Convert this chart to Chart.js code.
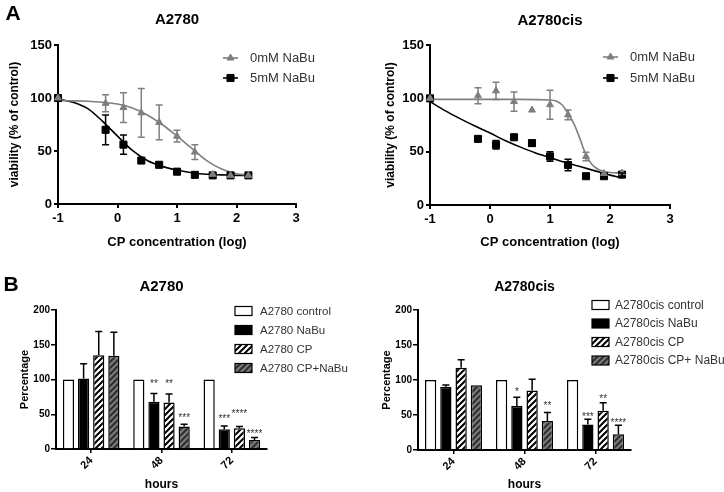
<!DOCTYPE html>
<html>
<head>
<meta charset="utf-8">
<script src="https://cdn.jsdelivr.net/npm/chart.js@4/dist/chart.umd.min.js"></script>
<style>
  body { margin: 0; background: #fff; }
  #wrap { position: relative; width: 724px; height: 492px; overflow: hidden; }
  canvas { position: absolute; }
</style>
</head>
<body>
<div id="wrap">
  <canvas id="doseA2780" width="362" height="250" style="left:0;top:0"></canvas>
  <canvas id="doseCis" width="362" height="250" style="left:362px;top:0"></canvas>
  <canvas id="barA2780" width="362" height="242" style="left:0;top:250px"></canvas>
  <canvas id="barCis" width="362" height="242" style="left:362px;top:250px"></canvas>
</div>
<script>
// ---- A: viability vs CP concentration (log) ----
const doseLog = [-1, -0.2, 0.1, 0.4, 0.7, 1.0, 1.3, 1.6, 1.9, 2.2];

const a2780Zero = [100, 95, 91, 86, 77, 64, 49, 28, 27, 27];
const a2780ZeroErr = [0, 8, 14, 23, 16.5, 5.5, 7, 0, 0, 0];
const a2780Five = [100, 70, 56, 41, 37, 30.5, 27.5, 27, 27, 27];
const a2780FiveErr = [0, 14, 9, 0, 2, 0, 0, 0, 0, 0];

const a2780FitX = [-1, -0.75, -0.5, -0.25, 0, 0.25, 0.5, 0.75, 1, 1.25, 1.5, 1.75, 2, 2.2];
const a2780FitZero = [97.5, 97.3, 97, 96, 94.3, 90.5, 84, 75, 64, 52.5, 41, 33, 28.5, 27.5];
const a2780FitFive = [99, 96, 90, 78, 64, 50.5, 41, 35.5, 32, 29.5, 28, 27.5, 27, 27];

const cisZero = [100, 102.5, 107, 97, 89, 94, 84.5, 45.5, 29.5, 30];
const cisZeroErr = [0, 7.5, 8, 9, 0, 13.5, 4.5, 4, 0, 0];
const cisFive = [100, 62, 56.5, 63.5, 58, 45.5, 37.5, 27, 27, 28.5];
const cisFiveErr = [0, 2, 4, 0, 3, 4.5, 5.5, 0, 0, 1.5];

const cisFitZeroX = [-1, -0.5, 0, 0.5, 1, 1.1, 1.2, 1.3, 1.4, 1.5, 1.6, 1.7, 1.8, 1.9, 2, 2.2];
const cisFitZero = [99, 99, 99, 99, 98.5, 97.5, 94, 86, 76, 62, 47, 38, 33.5, 31.5, 30.5, 30];
const cisFitFiveX = [-1, -0.75, -0.5, -0.25, 0, 0.25, 0.5, 0.75, 1, 1.25, 1.5, 1.75, 2, 2.2];
const cisFitFive = [97, 88.5, 81, 74, 67.5, 60.5, 54.5, 49, 44.5, 40, 36, 32, 28, 25.5];

// ---- B: percentage vs hours ----
const hours = ["24", "48", "72"];

const a2780Control = [100, 100, 100];
const a2780Nabu = [101.5, 68, 28.5];
const a2780NabuErr = [21, 12, 4.5];
const a2780Cp = [135, 67, 30];
const a2780CpErr = [34, 12, 2.5];
const a2780CpNabu = [134, 32.5, 13];
const a2780CpNabuErr = [34, 3, 3.5];
const a2780NabuStars = ["", "**", "***"];
const a2780NabuStarAt = [0, 97, 47];
const a2780CpStars = ["", "**", "****"];
const a2780CpStarAt = [0, 97, 54];
const a2780CpNabuStars = ["", "***", "****"];
const a2780CpNabuStarAt = [0, 48, 25];

const cisControl = [100, 100, 100];
const cisNabu = [90.5, 63, 36.5];
const cisNabuErr = [2.5, 12.5, 7.5];
const cisCp = [117.5, 85, 56];
const cisCpErr = [11.5, 16, 11.5];
const cisCpNabu = [92.5, 41.5, 22.5];
const cisCpNabuErr = [0, 12, 13];
const cisNabuStars = ["", "*", "***"];
const cisNabuStarAt = [0, 86, 51];
const cisCpStars = ["", "", "**"];
const cisCpStarAt = [0, 0, 76];
const cisCpNabuStars = ["", "**", "****"];
const cisCpNabuStarAt = [0, 66, 42];

const FONT = '"Liberation Sans", Arial, Helvetica, sans-serif';
const GRAY = "#7f7f7f";

Chart.defaults.font.family = FONT;
Chart.defaults.color = "#000";
Chart.defaults.animation = false;
Chart.defaults.plugins.legend.display = false;
Chart.defaults.plugins.tooltip.enabled = false;

function pts(xs, ys) {
  return xs.map((x, i) => ({ x: x, y: ys[i] }));
}

function stripes(bg, fg) {
  const c = document.createElement("canvas");
  c.width = 6;
  c.height = 6;
  const g = c.getContext("2d");
  g.fillStyle = bg;
  g.fillRect(0, 0, 6, 6);
  g.strokeStyle = fg;
  g.lineWidth = 2;
  g.beginPath();
  g.moveTo(0, 6); g.lineTo(6, 0);
  g.moveTo(-1, 1); g.lineTo(1, -1);
  g.moveTo(5, 7); g.lineTo(7, 5);
  g.stroke();
  return g.createPattern(c, "repeat");
}
const cpFill = stripes("#ffffff", "#000000");
const cpNabuFill = stripes("#7a7a7a", "#2e2e2e");

// title, panel letter and legend drawn on top of each chart
const panelText = {
  id: "panelText",
  afterDraw(chart, args, opts) {
    const ctx = chart.ctx;
    const area = chart.chartArea;
    ctx.save();
    ctx.fillStyle = "#000";
    ctx.textBaseline = "middle";
    ctx.textAlign = "center";
    ctx.font = "bold " + opts.titleSize + "px " + FONT;
    ctx.fillText(opts.title, (area.left + area.right) / 2, opts.titleY);
    if (opts.letter) {
      ctx.font = "bold 21px " + FONT;
      ctx.fillText(opts.letter, opts.letterX, opts.letterY);
    }
    const lg = opts.legend;
    let row = 0;
    chart.data.datasets.forEach((ds) => {
      if (!ds.label) return;
      const y = lg.y + row * lg.step;
      row++;
      if (lg.kind === "line") {
        ctx.strokeStyle = ds.borderColor;
        ctx.fillStyle = ds.backgroundColor;
        ctx.lineWidth = 1.6;
        ctx.beginPath();
        ctx.moveTo(lg.x, y);
        ctx.lineTo(lg.x + 15, y);
        ctx.stroke();
        ctx.lineWidth = 1;
        Chart.helpers.drawPoint(ctx, {
          pointStyle: ds.pointStyle, radius: ds.pointRadius, borderWidth: 1
        }, lg.x + 7.5, y);
      } else {
        ctx.fillStyle = ds.backgroundColor;
        ctx.fillRect(lg.x, y - 4.5, 17, 9);
        ctx.strokeStyle = "#000";
        ctx.lineWidth = 1.2;
        ctx.strokeRect(lg.x, y - 4.5, 17, 9);
      }
      ctx.fillStyle = "#333";
      ctx.textAlign = "left";
      ctx.font = lg.size + "px " + FONT;
      ctx.fillText(ds.label, lg.textX, y + 0.5);
    });
    ctx.restore();
  }
};

// error bars and significance stars from the dataset arrays
const errorBars = {
  id: "errorBars",
  afterDatasetsDraw(chart, args, opts) {
    const ctx = chart.ctx;
    const yScale = chart.scales.y;
    chart.data.datasets.forEach((ds, di) => {
      const meta = chart.getDatasetMeta(di);
      ctx.save();
      if (ds.errors) {
        ctx.strokeStyle = ds.errorColor;
        ctx.lineWidth = 1.5;
        meta.data.forEach((el, i) => {
          const e = ds.errors[i];
          if (!e) return;
          const raw = ds.data[i];
          const v = typeof raw === "object" ? raw.y : raw;
          const top = yScale.getPixelForValue(v + e);
          const bot = opts.oneSided ? el.y : yScale.getPixelForValue(v - e);
          ctx.beginPath();
          ctx.moveTo(el.x, top);
          ctx.lineTo(el.x, bot);
          ctx.moveTo(el.x - 3.5, top);
          ctx.lineTo(el.x + 3.5, top);
          if (!opts.oneSided) {
            ctx.moveTo(el.x - 3.5, bot);
            ctx.lineTo(el.x + 3.5, bot);
          }
          ctx.stroke();
        });
      }
      if (ds.stars) {
        ctx.fillStyle = "#333";
        ctx.textAlign = "center";
        ctx.textBaseline = "alphabetic";
        ctx.font = "10px " + FONT;
        meta.data.forEach((el, i) => {
          if (!ds.stars[i]) return;
          ctx.fillText(ds.stars[i], el.x, yScale.getPixelForValue(ds.starAt[i]) + 5.5);
        });
      }
      ctx.restore();
    });
  }
};

function axisBase(size) {
  return {
    grid: { drawOnChartArea: false, drawTicks: true, tickLength: 4, color: "#000", lineWidth: 2 },
    border: { color: "#000", width: 2 },
    ticks: { color: "#000", font: { size: size, weight: "bold" } }
  };
}

function doseChart(id, p) {
  const x = axisBase(13);
  const y = axisBase(13);
  return new Chart(id, {
    type: "scatter",
    data: {
      datasets: [
        { label: "0mM NaBu", data: pts(doseLog, p.zero), errors: p.zeroErr, errorColor: GRAY,
          pointStyle: "triangle", pointRadius: 4, backgroundColor: GRAY, borderColor: GRAY,
          borderWidth: 1, clip: false },
        { label: "5mM NaBu", data: pts(doseLog, p.five), errors: p.fiveErr, errorColor: "#000",
          pointStyle: "rect", pointRadius: 5, backgroundColor: "#000", borderColor: "#000",
          borderWidth: 1, clip: false },
        { data: pts(p.fitZeroX, p.fitZero), showLine: true, pointRadius: 0, borderColor: GRAY,
          borderWidth: 1.6, cubicInterpolationMode: "monotone", clip: false },
        { data: pts(p.fitFiveX, p.fitFive), showLine: true, pointRadius: 0, borderColor: "#000",
          borderWidth: 1.6, cubicInterpolationMode: "monotone", clip: false }
      ]
    },
    options: {
      responsive: false,
      layout: { padding: { left: 0, top: 45, right: p.padRight, bottom: 0 } },
      scales: {
        x: Object.assign(x, {
          type: "linear", min: -1, max: 3,
          ticks: Object.assign(x.ticks, { stepSize: 1, padding: 3 }),
          title: { display: true, text: "CP concentration (log)", color: "#000",
            font: { size: 13, weight: "bold" }, padding: 0 },
          afterFit: (s) => { s.height = p.xHeight; }
        }),
        y: Object.assign(y, {
          min: 0, max: 150,
          ticks: Object.assign(y.ticks, { stepSize: 50, padding: 2 }),
          title: { display: true, text: "viability (% of control)", color: "#000",
            font: { size: 12, weight: "bold" }, padding: { top: p.yTitlePad, bottom: 0 } },
          afterFit: (s) => { s.width = p.yWidth; }
        })
      },
      plugins: {
        panelText: {
          title: p.title, titleSize: 15, titleY: p.titleY,
          letter: p.letter, letterX: 13, letterY: 14,
          legend: p.legend
        },
        errorBars: { oneSided: false }
      }
    },
    plugins: [panelText, errorBars]
  });
}

function barChart(id, p) {
  const x = axisBase(11);
  const y = axisBase(10);
  const common = { borderColor: "#000", borderWidth: 1.5, barPercentage: 0.74, categoryPercentage: 0.86 };
  return new Chart(id, {
    type: "bar",
    data: {
      labels: hours,
      datasets: [
        Object.assign({ label: p.names[0], data: p.control, backgroundColor: "#ffffff" }, common),
        Object.assign({ label: p.names[1], data: p.nabu, backgroundColor: "#000000",
          errors: p.nabuErr, errorColor: "#000", stars: p.nabuStars, starAt: p.nabuStarAt }, common),
        Object.assign({ label: p.names[2], data: p.cp, backgroundColor: cpFill,
          errors: p.cpErr, errorColor: "#000", stars: p.cpStars, starAt: p.cpStarAt }, common),
        Object.assign({ label: p.names[3], data: p.cpNabu, backgroundColor: cpNabuFill,
          errors: p.cpNabuErr, errorColor: "#000", stars: p.cpNabuStars, starAt: p.cpNabuStarAt }, common)
      ]
    },
    options: {
      responsive: false,
      layout: { padding: { left: 0, top: 60, right: p.padRight, bottom: 0 } },
      scales: {
        x: Object.assign(x, {
          grid: Object.assign(x.grid, { lineWidth: 1.5, offset: false }),
          ticks: Object.assign(x.ticks, { minRotation: 45, maxRotation: 45, padding: 1 }),
          title: { display: true, text: "hours", color: "#000",
            font: { size: 12, weight: "bold" }, padding: 0 },
          afterFit: (s) => { s.height = p.xHeight; }
        }),
        y: Object.assign(y, {
          min: 0, max: 200,
          grid: Object.assign(y.grid, { tickLength: 5, lineWidth: 1.5 }),
          ticks: Object.assign(y.ticks, { stepSize: 50, padding: 1 }),
          title: { display: true, text: "Percentage", color: "#000",
            font: { size: 11, weight: "bold" }, padding: { top: 18, bottom: 0 } },
          afterFit: (s) => { s.width = 56; }
        })
      },
      plugins: {
        panelText: {
          title: p.title, titleSize: p.titleSize, titleY: 37,
          letter: p.letter, letterX: 11, letterY: 35,
          legend: p.legend
        },
        errorBars: { oneSided: true }
      }
    },
    plugins: [panelText, errorBars]
  });
}

doseChart("doseA2780", {
  title: "A2780", titleY: 20, letter: "A",
  zero: a2780Zero, zeroErr: a2780ZeroErr, five: a2780Five, fiveErr: a2780FiveErr,
  fitZeroX: a2780FitX, fitZero: a2780FitZero, fitFiveX: a2780FitX, fitFive: a2780FitFive,
  padRight: 66, xHeight: 46, yWidth: 58, yTitlePad: 7,
  legend: { kind: "line", x: 223, y: 58, step: 20, textX: 250, size: 13 }
});

doseChart("doseCis", {
  title: "A2780cis", titleY: 21, letter: "",
  zero: cisZero, zeroErr: cisZeroErr, five: cisFive, fiveErr: cisFiveErr,
  fitZeroX: cisFitZeroX, fitZero: cisFitZero, fitFiveX: cisFitFiveX, fitFive: cisFitFive,
  padRight: 54, xHeight: 45, yWidth: 68, yTitlePad: 21,
  legend: { kind: "line", x: 241, y: 57, step: 21, textX: 268, size: 13 }
});

barChart("barA2780", {
  title: "A2780", titleSize: 15, letter: "B",
  names: ["A2780 control", "A2780 NaBu", "A2780 CP", "A2780 CP+NaBu"],
  control: a2780Control, nabu: a2780Nabu, nabuErr: a2780NabuErr,
  cp: a2780Cp, cpErr: a2780CpErr, cpNabu: a2780CpNabu, cpNabuErr: a2780CpNabuErr,
  nabuStars: a2780NabuStars, nabuStarAt: a2780NabuStarAt,
  cpStars: a2780CpStars, cpStarAt: a2780CpStarAt,
  cpNabuStars: a2780CpNabuStars, cpNabuStarAt: a2780CpNabuStarAt,
  padRight: 95, xHeight: 43,
  legend: { kind: "box", x: 235, y: 61, step: 19, textX: 260, size: 11.5 }
});

barChart("barCis", {
  title: "A2780cis", titleSize: 14, letter: "",
  names: ["A2780cis control", "A2780cis NaBu", "A2780cis CP", "A2780cis CP+ NaBu"],
  control: cisControl, nabu: cisNabu, nabuErr: cisNabuErr,
  cp: cisCp, cpErr: cisCpErr, cpNabu: cisCpNabu, cpNabuErr: cisCpNabuErr,
  nabuStars: cisNabuStars, nabuStarAt: cisNabuStarAt,
  cpStars: cisCpStars, cpStarAt: cisCpStarAt,
  cpNabuStars: cisCpNabuStars, cpNabuStarAt: cisCpNabuStarAt,
  padRight: 93, xHeight: 42,
  legend: { kind: "box", x: 230, y: 55, step: 18.5, textX: 253, size: 12 }
});
</script>
</body>
</html>
